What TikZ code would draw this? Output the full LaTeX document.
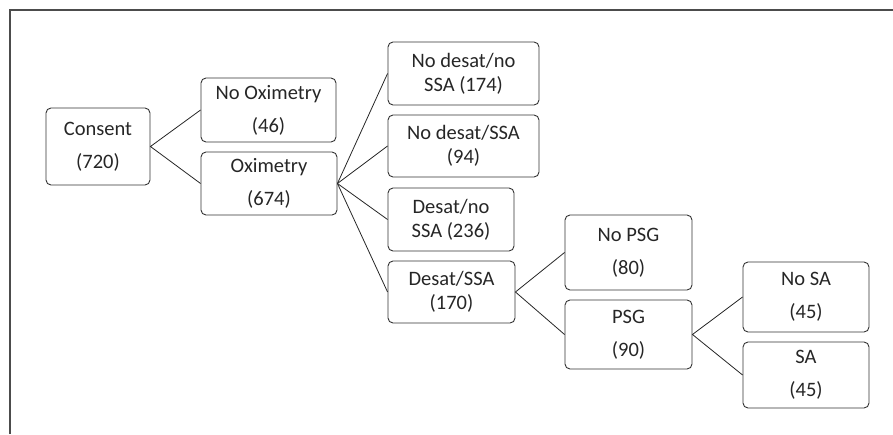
\documentclass[tikz,border=0pt]{standalone}
\usepackage{fontspec}
\setmainfont{Carlito}
\begin{document}
\begin{tikzpicture}[x=1pt,y=-1pt,
  box/.style={draw=black!80,line width=0.9pt,rounded corners=5pt,align=center,
    text=black!85,font=\fontsize{20.5}{24}\selectfont,inner sep=0pt},
  link/.style={draw=black!85,line width=0.8pt}]
  \useasboundingbox (0,0) rectangle (893,434);
  \draw[black!70,line width=1.2pt] (10,434) -- (10,10) -- (893,10);
  % first level
  \node[box,minimum width=104pt,minimum height=77pt] (consent) at (98,146.5) {Consent\\[9pt](720)};
  \node[box,minimum width=135pt,minimum height=64pt] (noox) at (268.5,110) {No Oximetry\\[9pt](46)};
  \node[box,minimum width=136pt,minimum height=63pt] (ox) at (269,183.5) {Oximetry\\[9pt](674)};
  % oximetry results
  \node[box,minimum width=151pt,minimum height=63pt] (nodns) at (463.5,73.5) {No desat/no\\SSA (174)};
  \node[box,minimum width=151pt,minimum height=62pt] (nodss) at (463.5,146) {No desat/SSA\\(94)};
  \node[box,minimum width=126pt,minimum height=63pt] (dns) at (451,219.5) {Desat/no\\SSA (236)};
  \node[box,minimum width=127pt,minimum height=62pt] (dss) at (451.5,292) {Desat/SSA\\(170)};
  % PSG
  \node[box,minimum width=127pt,minimum height=75pt] (nopsg) at (628.5,252.5) {No PSG\\[9pt](80)};
  \node[box,minimum width=127pt,minimum height=69pt] (psg) at (628.5,334.5) {PSG\\[9pt](90)};
  \node[box,minimum width=126pt,minimum height=70pt] (nosa) at (806,297) {No SA\\[9pt](45)};
  \node[box,minimum width=126pt,minimum height=66pt] (sa) at (806,375) {SA\\[9pt](45)};
  % connectors
  \draw[link] (noox.west) -- (consent.east) -- (ox.west);
  \foreach \n in {nodns,nodss,dns,dss}
    \draw[link] (ox.east) -- (\n.west);
  \draw[link] (nopsg.west) -- (dss.east) -- (psg.west);
  \draw[link] (nosa.west) -- (psg.east) -- (sa.west);
\end{tikzpicture}
\end{document}
